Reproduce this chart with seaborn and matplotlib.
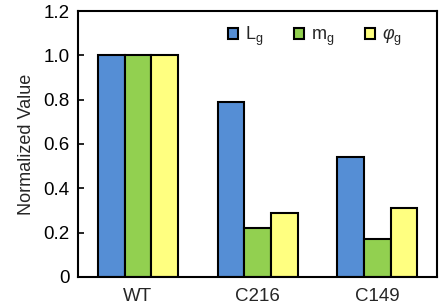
import numpy as np
import pandas as pd
import matplotlib
matplotlib.use("Agg")
import matplotlib.pyplot as plt
import seaborn as sns

# DATA
samples = ["WT", "C216", "C149"]
series = ["L", "m", "phi"]
L_g = [1.0, 0.789, 0.541]
m_g = [1.0, 0.221, 0.171]
phi_g = [1.0, 0.289, 0.311]
series_labels = [r"$\mathregular{L_g}$", r"$\mathregular{m_g}$", r"$\varphi_\mathregular{g}$"]
colors = ["#558ED5", "#92D050", "#FFFF80"]

df = pd.DataFrame({
    "sample": samples * 3,
    "series": [s for s in series for _ in samples],
    "value": L_g + m_g + phi_g,
})

sns.set_style("white")
plt.rcParams["font.family"] = ["Liberation Sans", "DejaVu Sans"]
plt.rcParams["mathtext.fontset"] = "custom"
plt.rcParams["mathtext.rm"] = "Liberation Sans"
plt.rcParams["mathtext.it"] = "Liberation Sans:italic"

fig = plt.figure(figsize=(4.43, 3.07), dpi=100)
ax = fig.add_axes([0.176, 0.098, 0.811, 0.866])

sns.barplot(
    data=df, x="sample", y="value", hue="series",
    palette=colors, width=0.667, edgecolor="black", linewidth=1.5,
    saturation=1, ax=ax,
)

ax.set_xlim(-0.5, 2.5)
ax.set_ylim(0, 1.2)
ax.set_yticks(np.arange(0, 1.21, 0.2))
ax.set_yticklabels(["0", "0.2", "0.4", "0.6", "0.8", "1.0", "1.2"])
ax.tick_params(axis="y", direction="in", length=4, width=1.2, left=True, labelsize=13.5, colors="black", pad=6)
ax.tick_params(axis="x", length=0, labelsize=13.5, pad=8)
ax.set_xlabel("")
ax.set_ylabel("Normalized Value", fontsize=13, labelpad=6)

for sp in ax.spines.values():
    sp.set_color("black")
    sp.set_linewidth(1.5)

handles, _ = ax.get_legend_handles_labels()
ax.legend(
    handles, series_labels, ncol=3, frameon=False, loc="center",
    bbox_to_anchor=(0.66, 0.905), fontsize=13,
    handlelength=0.55, handleheight=0.55, handletextpad=0.4, columnspacing=1.7,
)

fig.savefig("out.png", dpi=100)
